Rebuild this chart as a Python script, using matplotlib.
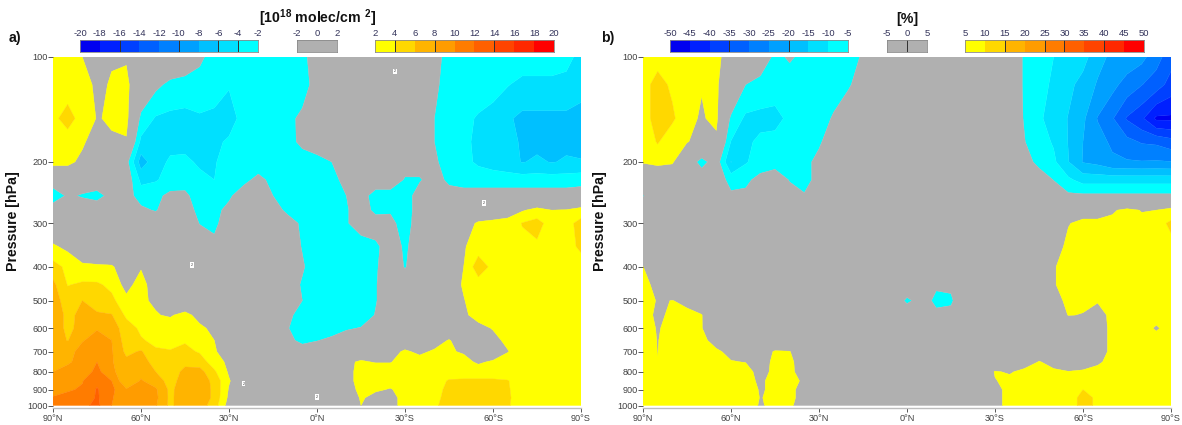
import numpy as np
import matplotlib
matplotlib.use("Agg")
import matplotlib.pyplot as plt
from matplotlib.colors import ListedColormap, BoundaryNorm

plt.rcParams['font.family'] = ['Liberation Sans', 'DejaVu Sans']
plt.rcParams['mathtext.fontset'] = 'custom'
plt.rcParams['mathtext.bf'] = 'Liberation Sans:bold'
plt.rcParams['mathtext.rm'] = 'Liberation Sans'

W, H = 1182, 425

lats = list(range(90, -91, -5))
pressures = [100,120,150,175,200,225,250,275,300,350,400,450,500,550,600,650,700,750,800,850,900,950,1000]
lat_ticks = [90, 60, 30, 0, -30, -60, -90]
lat_labels = ['90°N', '60°N', '30°N', '0°N', '30°S', '60°S', '90°S']
p_ticks = [100, 200, 300, 400, 500, 600, 700, 800, 900, 1000]

cold = ['#0000f0', '#0020ff', '#0040ff', '#0060ff', '#0080ff', '#00a0ff', '#00c0ff', '#00e0ff', '#00ffff']
gray = '#b0b0b0'
warm = ['#ffff00', '#ffd800', '#ffb400', '#ff9c00', '#ff7c00', '#ff6000', '#ff4400', '#ff2800', '#ff0000']

# ---- panel a: column change, 10^18 molec/cm2, one list per pressure level
A100 = [3,3,2,0,1.8,1.8,0,0,0,0,-1.5,-3,-3,-3,-3,-3,-3,-2.5,-1] + [-1]*7 + [-1,-3,-3,-3,-3,-3,-3,-3,-3,-3.5,-4.5]
A120 = [3,3,3,1.5,2.2,2.5,0,-1.5,-2.5,-3,-3,-3,-3.9,-3,-3,-3,-3,-3,-1] + [-1]*7 + [-1.5,-3,-3,-3,-3,-3.9,-4.5,-4.5,-4.5,-4.5,-5]
A150 = [3.5,4.8,3.2,1.9,2.2,2.6,-2.5,-4.2,-4.5,-4.5,-4.2,-4.5,-4.6,-3.5,-3,-3,-2.6,-1.5,-1] + [-1]*7 + [-2,-3,-3.5,-4.2,-5,-5.7,-6.5,-6.5,-6.5,-6.5,-7]
A175 = [2.6,3,2.3,1,1.8,1.8,-4.5,-4.4,-4.6,-4.6,-4.5,-4.3,-3.8,-3,-3,-3,-2.7,-1.5,-1] + [-1]*7 + [-2,-3,-3.6,-4.4,-5,-5.5,-6.2,-6.5,-6.5,-6.4,-6.5]
A200 = [2.5,2.5,1.5,.5,0,-1.2,-7,-4.8,-3.7,-3.6,-4.3,-4.2,-3,-3,-3,-3,-3,-3,-2.6] + [-2,-1,-1,-1,-1,-1,-1] + [-1.7,-2.8,-3.5,-4.3,-4.8,-5.3,-6.1,-5.7,-6.1,-5.8,-5.9]
A225 = [0,0,0,0,0,-.5,-4.5,-4.2,-3.2,-3,-3.5,-4,-3,-2.5,-1.5,-2.5,-3,-3,-3] + [-2.5,-1.5,-.5,-.5,-.5,-2.2,-2.2] + [-1,-2.5,-3,-3,-3,-3,-3,-3,-3,-3,-2.7]
A250 = [-3.9,-1.5,-2.3,-3,-1,-1,-3,-2.5,-1.5,-1.5,-3.2,-3.5,-2.3,-1,-1,-2,-3,-3,-3] + [-3,-2,-1,-3,-3,-3,-1] + [-1]*11
A275 = [0]*6 + [-1.5,-2.2,-.5,-1,-2.6,-2.5,-1.5,-1,-1,-1,-2.5,-3,-3,-3,-2.2,-1,-2.5,-2.2,-3,-1] + [0,0,0,0,0,1,1.8,2.6,2,2.1,2.7]
A300 = [0]*10 + [-2.1,-2.4,-1,-1,-1,-1,-1,-2.4,-3,-3,-2.2,-1,-1,-1.5,-2.8,-1] + [0,.5,1,2.3,2.7,2.7,4.1,4.8,3,3.2,4.8]
A350 = [2.3,1.5] + [0]*9 + [-1.5,0,0,0,0] + [-1,-2.1,-3,-3,-3,-3,-2.4,-1,-2.3,-1] + [0,.5,1.8,3,3,3,3.4,3.6,3,3.2,4.4]
A400 = [4.8,3.5,2.5,2.3,2.2,1,1.8] + [0]*9 + [-1,-1.8,-3,-3,-3,-3,-2.2,-1,-2.1,-1] + [0,1,2,5.2,3.4] + [3]*6
A450 = [6.5,3.9,4.3,4.3,3.5,1.2,3,.5] + [0]*8 + [-1,-2.2,-3,-3,-3,-3,-2.1,-1,-1,-.5] + [0,1,2.2,3] + [3]*7
A500 = [7,5,6,5,4.5,2.6,2.2,1.8,.5] + [0]*7 + [-1,-2,-3,-3,-3,-3,-2.1,-1,-1,-.5] + [0,.5,1.9,3] + [3]*7
A550 = [7.3,5.5,6.5,6.3,6.1,3.6,2.6,2.1,1.8,2.6,1.3,.5] + [0]*4 + [-1.7,-2.5,-3,-3,-3,-3,-1.9,-1,-.5,0] + [0,.5,1.7,2.6] + [3]*7
A600 = [7.3,5.5,6.7,7.9,7,5,3.6,3.3,3,3,2.4,1.5,.5] + [0]*3 + [-1.9,-3,-3,-3,-2.2,-1.9,-1,-.5,0,0] + [0,.5,1,1.5,2.1] + [3]*6
A650 = [7.3,5.9,7.9,8.5,8,5,4.2,3.5,3.5,3.8,3,2,.5] + [0]*3 + [-1.5,-2.5,-2.1,-1.5,-1,-.5,0,.5,1,1] + [1.3,2.1,1.2,.5,1.5,2.4] + [3]*5
A700 = [7.5,7.5,8.5,9.7,8.2,5.5,6.2,4.3,4.1,4.5,3.8,2.3,.5] + [0]*4 + [-1,-.5,0,.5,1,1,1.5,2.2,1.7] + [2.2,2.2,1.8,.5,.5,1.9,3] + [3]*4
A750 = [7.7,7.8,8.5,10,8.2,6.5,6.8,5.3,4.5,5.5,5,3,1.5,.3] + [0]*6 + [1.7,2.2,1.9,1.9,2.8,2.6,3,3,2.6,1.7,2.3,3] + [3]*5
A800 = [8,8.5,9,10.5,8.7,6,7.4,6,5,6.5,6.8,4.3,1.7,0] + [0]*6 + [1] + [3]*16
A850 = [8.2,8.8,9.9,11.5,10,6.2,8.2,7,5.2,7,7.5,5.3,2.2,0] + [0]*6 + [1,3,2.5,2.5,3,3,3,4.2,4.3,4.3,4.3,4.1] + [3]*5
A900 = [9,9.8,10.2,12.2,10.5,8.2,8.8,8.3,5.5,7.4,7.5,5.5,1.8,0] + [0]*6 + [.5,2.8,2.2,1.9,2.5,3,3.3,4.5,4.5,4.5,4.5,4.2] + [3]*5
A950 = [10.2,10.5,10.3,12.3,10.2,8.5,8.5,8.5,5.5,7.5,7.5,5.5,1.5,0] + [0]*6 + [.5,2.2,1.5,1.5,2.5,3,3.6,4.5,4.5,4.5,4.5,4.3] + [3]*5
A1000 = [11,12,11.5,12.5,10,8.5,8.5,8.2,5.5,7.5,7,5,1,0] + [0]*6 + [.5,2,1.5,1.5,2.5,3,3.8,4.5,4.5,4.5,4.5,4.2] + [3]*5

# ---- panel b: relative change, %, one list per pressure level
B100 = [7,8,9,8,7,6,3,0,-2,-6,-4.5,-6,-7,-8,-6,-4.7,-2] + [-1]*8 + [-2,-5.5,-7,-10,-12,-13,-18.5,-21,-22,-23.5,-28,-33]
B120 = [8,12,9,8,5.2,5.5,2,-5,-6.5,-7,-7,-8,-7,-7,-5.5,-3,-1] + [-1]*8 + [-2,-5.5,-8,-11,-13.5,-17,-20.5,-23.5,-27,-29.8,-32.5,-37]
B150 = [8,12,11,6,4.6,6,-6,-11,-11.5,-12,-8.5,-7.5,-7,-4.5,-2,-1,-1] + [-1]*8 + [-2,-5.3,-9.5,-11.3,-15.3,-19,-25.3,-29.5,-35.5,-39,-46,-46]
B175 = [6,10.5,6,5.3,3,4,-10.2,-11,-9,-8,-7.5,-7,-5.5,-3,-1.5,-1,-1] + [-1]*8 + [-1.5,-4.8,-8,-10.5,-15.2,-20,-23,-26,-28.5,-30.5,-31,-33]
B200 = [5.3,6,5.6,-1,-7,-2,-15.2,-10.5,-7.5,-7,-7,-6,-4,-1.5,-1,-1,-1] + [-1]*8 + [-1,-3.5,-6,-9,-14.8,-20.3,-21.5,-24,-24.5,-24.7,-24.5,-24.8]
B225 = [1,1,0,0,-1,-1.5,-7,-6,-3.5,-2,-5.3,-7,-3,-1,-1,-1,-1] + [-1]*8 + [-1,-2,-3,-5.1,-9,-12,-12,-12,-12,-12,-12,-12]
B250 = [-5.3,-1,-1,-1,-1,-1,-4,-4,-2,-2,-3,-4.5,-2,-1,-1,-1,-1] + [-1]*8 + [-1,-1,-2,-3,-4,-4,-4,-4,-4,-4,-4,-4]
B275 = [-1]*29 + [2,3,3,4.5,6,4.8,5,6.5]
B300 = [-1]*27 + [0,2,4.8,6,6,6,6,6,8,11]
B350 = [-1]*27 + [0,3,6,6,6,6,6,6,6,8.5]
B400 = [5.1,0] + [-1]*25 + [1,4.8] + [6]*8
B450 = [7,3,0] + [-1]*16 + [-2,-4.4,-4.4,-2] + [-1]*4 + [1,4.8] + [6]*8
B500 = [8,4.5,5.1,4,3,1,0] + [-1]*11 + [-6,-3,-6,-5.5,-2] + [-1]*4 + [2,4.5,5.3,5.5,5.3] + [6]*5
B550 = [8,3.5,6.5,6,5.1,2,0] + [-1]*13 + [-4,-4] + [-1]*5 + [1,3,5.1,4.9,3.5] + [6]*5
B600 = [8,4.5,7,7,5.2,1,0] + [-1]*20 + [0,1,2,3,3,6] + [6,6,4.7,6]
B650 = [8,4.8,7.5,7,6,3.5,1] + [-1]*20 + [0,1,2,3,3,6] + [6]*4
B700 = [8,4.9,8,8,7,5.6,4,1,2,5.5,5.2,1,0] + [-1]*14 + [3,3,2,2,3,6] + [6]*4
B750 = [8,5.1,8,8,8,6.5,5.2,4.9,3,6,6,2.5,0] + [-1]*10 + [0,1,2,3,5.2,4,3,3.8,4.5,6] + [6]*4
B800 = [8,6,8,8,8,8,7,6.5,3.5,6,6,3,0] + [-1]*9 + [0,1,5.3,4.6,6,6,5.5,5.1,5.3,6,6] + [6]*4
B850 = [9,8,8,8,8,8,8,7,4,7,7,4,0] + [-1]*9 + [0,2,4.8,6,6,6,6,6,7.5,7,6] + [6]*4
B900 = [9,8,9,9,8,8,8,8,4.5,6,6,3.5,0] + [-1]*9 + [0,3,4,6,6,6,6,7,10,7.5,6] + [6]*4
B950 = [9,8,8,8,8,8,8,8,4.8,6,6,3.5,0] + [-1]*9 + [0,3,4,6,6,6,6,7,12,9,6] + [6]*4
B1000 = [8,8,8,8,8,8,8,7,4.6,6,6,2,0] + [-1]*9 + [0,3,4,6,6,6,6,7,12,9,6] + [6]*4

a_rows = [A100,A120,A150,A175,A200,A225,A250,A275,A300,A350,A400,A450,A500,A550,A600,A650,A700,A750,A800,A850,A900,A950,A1000]
b_rows = [B100,B120,B150,B175,B200,B225,B250,B275,B300,B350,B400,B450,B500,B550,B600,B650,B700,B750,B800,B850,B900,B950,B1000]

a_cold_levels = [-20,-18,-16,-14,-12,-10,-8,-6,-4,-2]
a_mid_levels = [-2,0,2]
a_warm_levels = [2,4,6,8,10,12,14,16,18,20]
b_cold_levels = [-50,-45,-40,-35,-30,-25,-20,-15,-10,-5]
b_mid_levels = [-5,0,5]
b_warm_levels = [5,10,15,20,25,30,35,40,45,50]

# contour-label positions (latitude, pressure) and their values
a_clabels = [(-26.5, 110, '2'), (-57, 262, '2'), (42.6, 395, '2'), (25, 865, '2'), (0, 945, '2')]


def axes_px(x0, y0, x1, y1):
    return fig.add_axes([x0 / W, 1 - y1 / H, (x1 - x0) / W, (y1 - y0) / H])


def panel(x0, rows, cold_l, warm_l, label_right, clabels=()):
    ax = axes_px(x0, 57, x0 + 528, 408)
    levels = cold_l + warm_l
    colors = cold + [gray] + warm
    data = np.array(rows, dtype=float)
    cs = ax.contourf(lats, pressures, data, levels=levels, colors=colors, extend='neither', antialiased=True)
    cs.set_edgecolor('face')
    cs.set_linewidth(0.25)
    ax.set_yscale('log')
    ax.set_ylim(1016.6, 100)
    ax.set_xlim(90, -90)
    ax.set_yticks(p_ticks)
    ax.set_yticklabels([str(p) for p in p_ticks])
    ax.minorticks_off()
    ax.set_xticks(lat_ticks)
    ax.set_xticklabels(lat_labels)
    ax.tick_params(axis='both', labelsize=6.6, labelcolor='#404040', color='#555555',
                   length=3, width=0.7, pad=1.5)
    ax.tick_params(axis='y', length=3.5, pad=0.3)
    for s in ('top', 'right', 'left'):
        ax.spines[s].set_visible(False)
    ax.spines['bottom'].set_color('#bdbdbd')
    ax.spines['bottom'].set_linewidth(1.0)
    ax.set_ylabel('Pressure [hPa]', fontsize=10.2, fontweight='bold', color='#111111')
    ax.yaxis.set_label_coords((label_right - x0) / 528, 0.533)
    for la, pr, s in clabels:
        ax.text(la, pr, s, fontsize=2.6, ha='center', va='center', color='#333333',
                bbox=dict(fc='white', ec='none', pad=0.6))
    return ax


def bar(x0, x1, lv, cols, dark):
    cax = axes_px(x0, 40, x1, 52)
    edges = np.array(lv, dtype=float)
    cmap = ListedColormap(cols)
    norm = BoundaryNorm(lv, cmap.N)
    mids = (edges[:-1] + edges[1:]) / 2
    cax.pcolormesh(edges, [0, 1], mids[None, :], cmap=cmap, norm=norm)
    cax.set_xlim(lv[0], lv[-1])
    cax.set_yticks([])
    cax.xaxis.tick_top()
    cax.set_xticks(lv)
    cax.set_xticklabels([str(v) for v in lv])
    cax.tick_params(axis='x', labelsize=6.8, labelcolor='#33335a', length=0, pad=1.5)
    for s in cax.spines.values():
        s.set_color('#8a8a8a')
        s.set_linewidth(0.6)
    for d in dark:
        cax.axvline(d, color='#303030', lw=0.7)


fig = plt.figure(figsize=(W / 100, H / 100), dpi=100, facecolor='white')

panel(53, a_rows, a_cold_levels, a_warm_levels, 20, a_clabels)
panel(643, b_rows, b_cold_levels, b_warm_levels, 607)

bar(80, 258, a_cold_levels, cold, [-16, -10, -6, -4])
bar(297, 337, a_mid_levels, [gray, gray], [2])
bar(375, 554, a_warm_levels, warm, [4, 8, 14])
bar(670, 848, b_cold_levels, cold, [-35, -20])
bar(887, 927, b_mid_levels, [gray, gray], [0])
bar(965, 1144, b_warm_levels, warm, [15, 25, 30, 40])

fig.text(318 / W, 1 - 18.5 / H, r'[10$^{\mathbf{18}}$ molec/cm $^{\mathbf{2}}$]', fontsize=10.2, fontweight='bold',
         ha='center', va='center', color='#111111')
fig.text(907 / W, 1 - 18.5 / H, '[%]', fontsize=10.2, fontweight='bold', ha='center', va='center', color='#111111')
fig.text(9 / W, 1 - 38 / H, 'a)', fontsize=10.2, fontweight='bold', ha='left', va='center', color='#111111')
fig.text(601 / W, 1 - 38 / H, 'b)', fontsize=10.2, fontweight='bold', ha='left', va='center', color='#111111')

fig.savefig('out.png', dpi=100, facecolor='white')
